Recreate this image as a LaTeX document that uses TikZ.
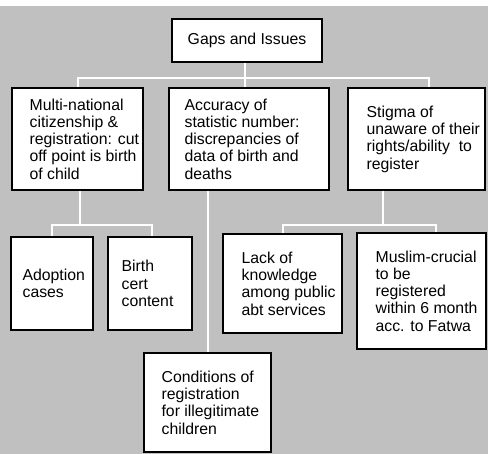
\documentclass[tikz,border=0pt]{standalone}
\usepackage{fontspec}
\setmainfont{Liberation Sans}
\definecolor{bggray}{RGB}{192,192,192}
\tikzset{
  box/.style={draw=black, line width=1.2pt, fill=white, inner sep=0pt},
  txt/.style={inner sep=0pt, align=left, anchor=west,
    font=\fontsize{15.8}{17.3}\selectfont},
  conn/.style={draw=white, line width=2pt}
}
\begin{document}
\begin{tikzpicture}[x=1pt,y=1pt]
\useasboundingbox (0,0) rectangle (488,-454);
\fill[white] (0,0) rectangle (488,-454);
\fill[bggray] (0,-6) rectangle (488,-454);
% boxes
\node[box, minimum width=150, minimum height=43, font=\fontsize{15.8}{17.3}\selectfont] (root) at (247,-40.5) {Gaps and Issues};
\node[box, minimum width=131, minimum height=102] (A) at (77.5,-139) {};
\node[box, minimum width=160, minimum height=102] (B) at (249,-139) {};
\node[box, minimum width=137, minimum height=102] (C) at (416.5,-139) {};
\node[box, minimum width=82, minimum height=93] (adopt) at (52,-283.5) {};
\node[box, minimum width=84, minimum height=93] (birth) at (150,-283.5) {};
\node[box, minimum width=119, minimum height=99] (lack) at (282.5,-283.5) {};
\node[box, minimum width=129, minimum height=116] (muslim) at (421.5,-291) {};
\node[box, minimum width=127, minimum height=99] (cond) at (207.5,-402.5) {};
% texts
\node[txt] (Atxt) at ([xshift=18]A.west)
  {Multi-national\\citizenship \&\\registration: cut\\off point is birth\\of child};
\node[txt] (Btxt) at ([xshift=16]B.west)
  {Accuracy of\\statistic number:\\discrepancies of\\data of birth and\\deaths};
\node[txt] (Ctxt) at ([xshift=19]C.west)
  {Stigma of\\unaware of their\\rights/ability\ \ to\\register};
\node[txt] (adopttxt) at ([xshift=12]adopt.west) {Adoption\\cases};
\node[txt] (birthtxt) at ([xshift=14]birth.west) {Birth\\cert\\content};
\node[txt] (lacktxt) at ([xshift=19]lack.west)
  {Lack of\\knowledge\\among public\\abt services};
\node[txt] (muslimtxt) at ([xshift=19]muslim.west)
  {Muslim-crucial\\to be\\registered\\within 6 month\\acc. to Fatwa};
\node[txt] (condtxt) at ([xshift=18]cond.west)
  {Conditions of\\registration\\for illegitimate\\children};
% connectors
\coordinate (j1) at (245,-78);
\coordinate (j2) at (80,-225);
\coordinate (j3) at (383,-225);
\draw[conn] (j1 |- root.south) -- (j1 |- B.north);
\draw[conn] ([xshift=12.5]C.north) |- (A.north |- j1) -- (A.north);
\draw[conn] (j2 |- A.south) -- (j2);
\draw[conn] (adopt.north) |- ([xshift=2]birth.north |- j2) -- ([xshift=2]birth.north);
\draw[conn] (cond.north |- B.south) -- (cond.north);
\draw[conn] (j3 |- C.south) -- (j3);
\draw[conn] (lack.north) |- ([xshift=14.5]muslim.north |- j3) -- ([xshift=14.5]muslim.north);
\end{tikzpicture}
\end{document}
